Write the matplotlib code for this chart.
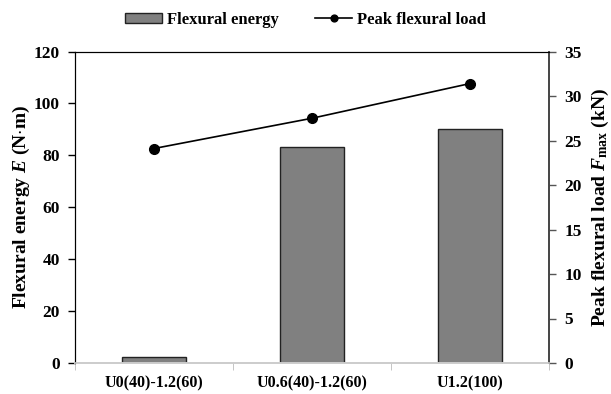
import numpy as np
import matplotlib
matplotlib.use("Agg")
import matplotlib.pyplot as plt

categories = ["U0(40)-1.2(60)", "U0.6(40)-1.2(60)", "U1.2(100)"]
flexural_energy = [2.3, 83.3, 90.2]
peak_load = [24.1, 27.5, 31.4]

plt.rcParams['font.family'] = 'Liberation Serif'
plt.rcParams['font.weight'] = 'bold'
plt.rcParams['axes.labelweight'] = 'bold'
plt.rcParams['mathtext.fontset'] = 'custom'
plt.rcParams['mathtext.rm'] = 'Liberation Serif:bold'
plt.rcParams['mathtext.it'] = 'Liberation Serif:italic:bold'
plt.rcParams['font.size'] = 12

fig = plt.figure(figsize=(6.11, 3.94), dpi=100)
ax = fig.add_axes([75 / 611, 1 - 363 / 394, 474 / 611, 311.5 / 394])
ax2 = ax.twinx()

x = np.arange(len(categories))
bars = ax.bar(x, flexural_energy, width=0.41, color="#808080",
              edgecolor="#222222", linewidth=1.0, label="Flexural energy", zorder=2)
line, = ax2.plot(x, peak_load, color="black", linewidth=1.2, marker="o",
                 markersize=7, label="Peak flexural load", zorder=3)

ax.set_xlim(-0.5, 2.5)
ax.set_ylim(0, 120)
ax.set_yticks(np.arange(0, 121, 20))
ax2.set_ylim(0, 35)
ax2.set_yticks(np.arange(0, 36, 5))

ax.set_xticks(x)
ax.set_xticklabels(categories, fontsize=11.5)
ax.set_xticks([-0.5, 0.5, 1.5, 2.5], minor=True)
ax.tick_params(axis="x", which="major", length=0, pad=9)
ax.tick_params(axis="x", which="minor", length=5, color="#bbbbbb")
ax.tick_params(axis="y", length=5, width=1, pad=6, labelsize=12.5)
ax2.tick_params(axis="y", length=5, width=1, pad=6, color="#555555", labelsize=12.5)

for a in (ax, ax2):
    a.spines["bottom"].set_color("#cccccc")
    a.spines["bottom"].set_linewidth(1.2)
    a.spines["top"].set_color("black")
    a.spines["left"].set_color("black")
    a.spines["right"].set_color("#444444")
    a.spines["right"].set_linewidth(1.2)

ax.set_ylabel(r"Flexural energy $E$ (N$\cdot$m)", fontsize=14, labelpad=1)
ax2.set_ylabel(r"Peak flexural load $F_{\mathrm{max}}$ (kN)", fontsize=14, labelpad=6)

fig.legend([bars, line], ["Flexural energy", "Peak flexural load"],
           loc="center", bbox_to_anchor=(0.5, 1 - 20 / 394), ncol=2,
           frameon=False, handlelength=2.2, handleheight=0.6, columnspacing=2.2,
           handletextpad=0.3, markerscale=0.7, fontsize=12)

fig.savefig("out.png", dpi=100)
